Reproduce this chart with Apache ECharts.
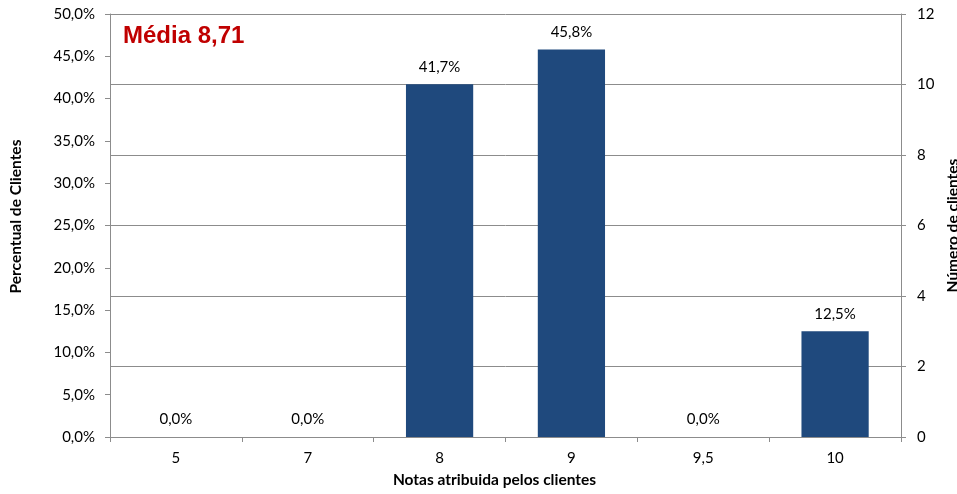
<!DOCTYPE html>
<html><head><meta charset="utf-8">
<script src="https://cdn.jsdelivr.net/npm/echarts@6/dist/echarts.min.js"></script>
<style>html,body{margin:0;padding:0;background:#fff}#c{width:957px;height:494px}</style>
</head><body><div id="c"></div>
<script>
var categories = ['5', '7', '8', '9', '9,5', '10'];
var counts = [0, 0, 10, 11, 0, 3];
var percents = [0.0, 0.0, 41.7, 45.8, 0.0, 12.5];
var leftTicks = {min: 0, max: 50, interval: 5};
var rightTicks = {min: 0, max: 12, interval: 2};
var mediaText = 'Média 8,71';

var font = 'Lato, "Open Sans", sans-serif';
var grey = '#8c8c8c';
var chart = echarts.init(document.getElementById('c'), null, {renderer: 'canvas'});
chart.setOption({
  animation: false,
  textStyle: {fontFamily: font},
  grid: {left: 110, right: 56, top: 14, bottom: 57, containLabel: false, outerBoundsMode: 'none'},
  graphic: [{
    type: 'text', left: 123, top: 24,
    style: {text: mediaText, fill: '#c00000', font: 'bold 24px "Liberation Sans", Arial, sans-serif'}
  }],
  xAxis: {
    type: 'category', data: categories,
    name: 'Notas atribuida pelos clientes', nameLocation: 'middle', nameGap: 35,
    nameTextStyle: {fontWeight: 'bold', fontSize: 15.5, color: '#000', fontFamily: font, padding: [0, 22, 0, 0]},
    axisLine: {lineStyle: {color: grey}},
    axisTick: {show: true, alignWithLabel: false, length: 5, lineStyle: {color: grey}},
    axisLabel: {color: '#000', fontSize: 15, margin: 14, fontFamily: font}
  },
  yAxis: [{
    type: 'value', position: 'left', min: leftTicks.min, max: leftTicks.max, interval: leftTicks.interval,
    name: 'Percentual de Clientes', nameLocation: 'middle', nameGap: 86, nameRotate: 90,
    nameTextStyle: {fontWeight: 'bold', fontSize: 15.5, color: '#000', fontFamily: font, padding: [0, 0, 0, 18]},
    axisLine: {show: true, lineStyle: {color: grey}},
    axisTick: {show: true, length: 5, lineStyle: {color: grey}},
    splitLine: {show: false},
    axisLabel: {color: '#000', fontSize: 15, margin: 15, fontFamily: font,
      formatter: function (v) { return v.toFixed(1).replace('.', ',') + '%'; }}
  }, {
    type: 'value', position: 'right', min: rightTicks.min, max: rightTicks.max, interval: rightTicks.interval,
    name: 'Número de clientes', nameLocation: 'middle', nameGap: 32, nameRotate: 90,
    nameTextStyle: {fontWeight: 'bold', fontSize: 15.5, color: '#000', fontFamily: font},
    axisLine: {show: true, lineStyle: {color: grey}},
    axisTick: {show: true, length: 5, lineStyle: {color: grey}},
    splitLine: {show: true, lineStyle: {color: grey, width: 1}},
    axisLabel: {color: '#000', fontSize: 15, margin: 16, fontFamily: font}
  }],
  series: [{
    type: 'bar', yAxisIndex: 0, data: percents, barWidth: '51%',
    itemStyle: {color: '#1f497d'},
    label: {show: true, position: 'top', distance: 10, color: '#000', fontSize: 15, fontFamily: font,
      formatter: function (p) { return p.value.toFixed(1).replace('.', ',') + '%'; }}
  }]
});
</script></body></html>
